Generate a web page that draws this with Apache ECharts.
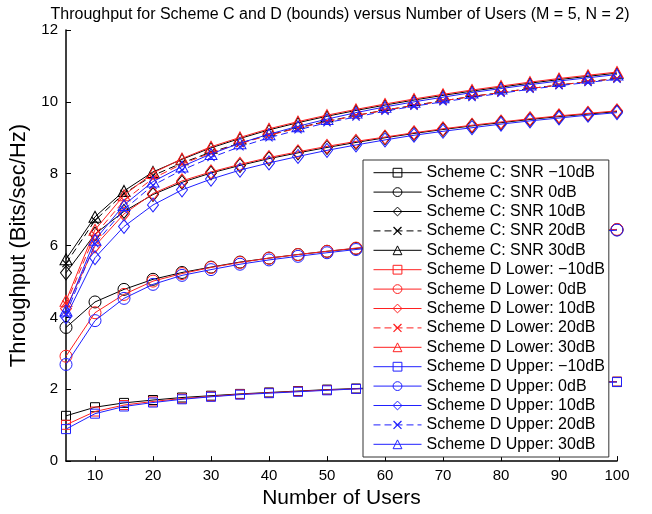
<!DOCTYPE html>
<html>
<head>
<meta charset="utf-8">
<script src="https://cdn.jsdelivr.net/npm/echarts@6/dist/echarts.min.js"></script>
<style>html,body{margin:0;padding:0;background:#fff}#c{width:652px;height:514px}</style>
</head>
<body>
<div id="c"></div>
<script>
const users = [5,10,15,20,25,30,35,40,45,50,55,60,65,70,75,80,85,90,95,100];
const xTicks = [10,20,30,40,50,60,70,80,90,100];

const C_m10  = [1.26,1.50,1.62,1.70,1.77,1.82,1.87,1.91,1.95,1.99,2.02,2.05,2.08,2.10,2.12,2.14,2.16,2.18,2.20,2.21];
const C_0    = [3.72,4.43,4.78,5.06,5.25,5.40,5.54,5.65,5.75,5.84,5.92,6.00,6.06,6.12,6.18,6.24,6.29,6.34,6.39,6.44];
const C_10   = [5.24,6.32,6.95,7.42,7.76,8.02,8.23,8.42,8.58,8.73,8.87,9.00,9.12,9.23,9.33,9.42,9.51,9.59,9.66,9.73];
const C_20   = [5.50,6.70,7.45,7.95,8.30,8.60,8.85,9.08,9.28,9.46,9.62,9.77,9.90,10.03,10.15,10.26,10.37,10.47,10.56,10.65];
const C_30   = [5.62,6.80,7.52,8.05,8.40,8.72,8.98,9.22,9.42,9.60,9.76,9.91,10.05,10.18,10.30,10.41,10.52,10.62,10.71,10.80];

const DL_m10 = [1.01,1.38,1.56,1.66,1.74,1.80,1.86,1.90,1.94,1.98,2.01,2.04,2.07,2.10,2.12,2.14,2.16,2.18,2.20,2.21];
const DL_0   = [2.92,4.13,4.64,5.01,5.22,5.39,5.53,5.65,5.75,5.84,5.93,6.00,6.07,6.13,6.19,6.24,6.30,6.35,6.40,6.45];
const DL_10  = [4.25,5.99,6.88,7.45,7.80,8.05,8.26,8.45,8.61,8.76,8.90,9.02,9.14,9.25,9.35,9.44,9.53,9.61,9.68,9.75];
const DL_20  = [4.37,6.30,7.25,7.87,8.27,8.58,8.84,9.07,9.27,9.45,9.62,9.77,9.90,10.03,10.15,10.26,10.37,10.47,10.56,10.65];
const DL_30  = [4.46,6.44,7.40,8.02,8.42,8.75,9.01,9.25,9.45,9.63,9.79,9.94,10.08,10.21,10.33,10.44,10.55,10.65,10.74,10.83];

const DU_m10 = [0.89,1.32,1.52,1.63,1.72,1.79,1.85,1.89,1.93,1.97,2.01,2.04,2.07,2.09,2.11,2.13,2.15,2.17,2.19,2.20];
const DU_0   = [2.69,3.91,4.53,4.92,5.17,5.33,5.48,5.60,5.70,5.80,5.89,5.97,6.04,6.10,6.16,6.22,6.27,6.33,6.38,6.43];
const DU_10  = [4.02,5.66,6.53,7.13,7.55,7.85,8.10,8.30,8.48,8.65,8.80,8.94,9.07,9.18,9.28,9.38,9.47,9.55,9.63,9.70];
const DU_20  = [4.09,6.05,7.00,7.68,8.10,8.45,8.75,9.00,9.22,9.42,9.58,9.74,9.88,10.00,10.12,10.24,10.35,10.45,10.54,10.63];
const DU_30  = [4.19,6.16,7.13,7.78,8.20,8.55,8.85,9.10,9.32,9.52,9.70,9.86,10.00,10.13,10.26,10.37,10.48,10.58,10.67,10.76];

const seriesNames = [
  'Scheme C: SNR \u221210dB','Scheme C: SNR 0dB','Scheme C: SNR 10dB','Scheme C: SNR 20dB','Scheme C: SNR 30dB',
  'Scheme D Lower: \u221210dB','Scheme D Lower: 0dB','Scheme D Lower: 10dB','Scheme D Lower: 20dB','Scheme D Lower: 30dB',
  'Scheme D Upper: \u221210dB','Scheme D Upper: 0dB','Scheme D Upper: 10dB','Scheme D Upper: 20dB','Scheme D Upper: 30dB'
];
const seriesData = [C_m10,C_0,C_10,C_20,C_30,DL_m10,DL_0,DL_10,DL_20,DL_30,DU_m10,DU_0,DU_10,DU_20,DU_30];

const colors = ['#000000','#ff2020','#2020ff'];
const X_PATH = 'path://M0,1 L1,0 L5,4 L9,0 L10,1 L6,5 L10,9 L9,10 L5,6 L1,10 L0,9 L4,5 Z';
const symbols = ['rect','circle','diamond',X_PATH,'triangle'];
const symSizes = [9,12,[11,14],8,[12,11]];

const series = seriesData.map((d, i) => {
  const g = Math.floor(i / 5), k = i % 5;
  const col = colors[g];
  const isX = k === 3;
  return {
    name: seriesNames[i],
    type: 'line',
    data: users.map((u, j) => [u, d[j]]),
    symbol: symbols[k],
    symbolSize: symSizes[k],
    showAllSymbol: true,
    animation: false,
    z: 2 + g,
    lineStyle: { color: col, width: 1, type: isX ? [7, 4] : 'solid' },
    itemStyle: isX
      ? { color: col, borderWidth: 0 }
      : { color: 'rgba(255,255,255,0)', borderColor: col, borderWidth: 1 },
    emphasis: { disabled: true }
  };
});

const FONT = 'Liberation Sans, Arial, sans-serif';
const chart = echarts.init(document.getElementById('c'), null, { renderer: 'canvas' });
chart.setOption({
  backgroundColor: '#fff',
  animation: false,
  textStyle: { fontFamily: FONT },
  title: {
    text: 'Throughput for Scheme C and D (bounds) versus Number of Users (M = 5, N = 2)',
    left: 335, top: 2, textAlign: 'center',
    textStyle: { fontSize: 16, fontWeight: 'normal', color: '#000', fontFamily: FONT }
  },
  grid: { left: 64, right: 35, top: 30, bottom: 49, containLabel: false },
  xAxis: {
    type: 'value', min: 5, max: 100,
    name: 'Number of Users', nameLocation: 'middle', nameGap: 25,
    nameTextStyle: { fontSize: 21, color: '#000', fontFamily: FONT },
    axisLine: { lineStyle: { color: '#000', width: 1.5 } },
    axisTick: { inside: true, length: 5, lineStyle: { color: '#000' }, customValues: xTicks },
    axisLabel: { fontSize: 15, color: '#000', margin: 7, customValues: xTicks },
    splitLine: { show: false }
  },
  yAxis: {
    type: 'value', min: 0, max: 12, interval: 2,
    name: 'Throughput (Bits/sec/Hz)', nameLocation: 'middle', nameGap: 36,
    nameTextStyle: { fontSize: 22, color: '#000', fontFamily: FONT },
    axisLine: { show: true, lineStyle: { color: '#000', width: 1.5 } },
    axisTick: { show: true, inside: true, length: 5, lineStyle: { color: '#000' } },
    axisLabel: { fontSize: 15, color: '#000', margin: 8 },
    splitLine: { show: false }
  },
  legend: {
    data: seriesNames,
    orient: 'vertical',
    left: 363, top: 160,
    padding: [4, 4, 4, 10],
    itemGap: 2,
    itemWidth: 48, itemHeight: 11,
    backgroundColor: '#fff',
    borderColor: '#333', borderWidth: 1,
    z: 20,
    selectedMode: false,
    lineStyle: { width: 1 },
    itemStyle: { borderWidth: 1 },
    textStyle: { fontSize: 16, color: '#000', lineHeight: 17.4, fontFamily: FONT }
  },
  series: series
});
</script>
</body>
</html>
